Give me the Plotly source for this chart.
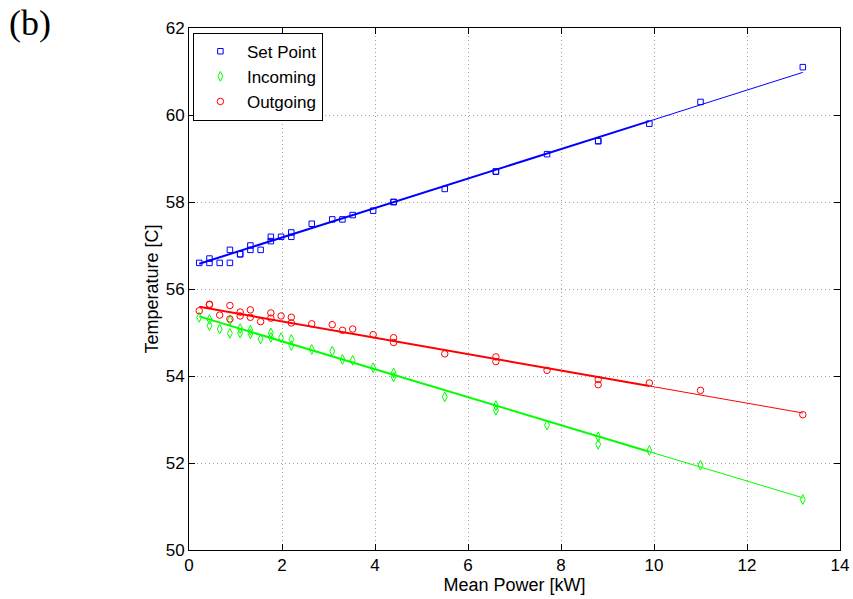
import plotly.graph_objects as go

# ---- data ----
power = [0.22, 0.44, 0.44, 0.66, 0.88, 0.88, 1.10, 1.10, 1.32, 1.32, 1.54,
         1.76, 1.76, 1.98, 2.20, 2.20, 2.64, 3.08, 3.30, 3.52, 3.96, 4.40,
         4.40, 5.50, 6.60, 6.60, 7.70, 8.80, 8.80, 9.90, 11.0, 13.2]

set_point = [56.6, 56.7, 56.6, 56.6, 56.9, 56.6, 56.8, 56.8, 57.0, 56.9, 56.9,
             57.2, 57.1, 57.2, 57.3, 57.2, 57.5, 57.6, 57.6, 57.7, 57.8, 58.0,
             58.0, 58.3, 58.7, 58.7, 59.1, 59.4, 59.4, 59.8, 60.3, 61.1]

incoming = [55.35, 55.30, 55.16, 55.08, 55.28, 54.98, 55.09, 54.99, 55.05, 54.97, 54.85,
            54.99, 54.89, 54.88, 54.84, 54.70, 54.61, 54.57, 54.38, 54.36, 54.19, 54.07,
            53.98, 53.52, 53.32, 53.21, 52.87, 52.60, 52.43, 52.29, 51.95, 51.16]

outgoing = [55.50, 55.65, 55.64, 55.40, 55.62, 55.31, 55.47, 55.38, 55.52, 55.35, 55.25,
            55.45, 55.33, 55.38, 55.35, 55.22, 55.20, 55.18, 55.05, 55.08, 54.95, 54.88,
            54.77, 54.51, 54.44, 54.33, 54.13, 53.92, 53.80, 53.84, 53.67, 53.11]

# fitted lines, read at x = 0.22, 9.9 (end of dense section), 13.2
fit_x = [0.22, 9.9, 13.2]
fit_set = [56.58, 59.86, 60.98]
fit_in = [55.37, 52.26, 51.20]
fit_out = [55.59, 53.77, 53.15]

x_ticks = [0, 2, 4, 6, 8, 10, 12, 14]
y_ticks = [50, 52, 54, 56, 58, 60, 62]

BLUE, GREEN, RED = "#0000ff", "#00ff00", "#ff0000"
FONT = "Liberation Sans, Arial, Helvetica, sans-serif"

fig = go.Figure()

for fy, col in [(fit_set, BLUE), (fit_out, RED), (fit_in, GREEN)]:
    fig.add_trace(go.Scatter(x=fit_x[:2], y=fy[:2], mode="lines",
                             line=dict(color=col, width=2), showlegend=False,
                             hoverinfo="skip"))
    fig.add_trace(go.Scatter(x=fit_x[1:], y=fy[1:], mode="lines",
                             line=dict(color=col, width=1), showlegend=False,
                             hoverinfo="skip"))

fig.add_trace(go.Scatter(x=power, y=set_point, mode="markers", name="Set Point",
                         marker=dict(symbol="square-open", size=5.5, color=BLUE,
                                     line=dict(width=1, color=BLUE))))
fig.add_trace(go.Scatter(x=power, y=incoming, mode="markers", name="Incoming",
                         marker=dict(symbol="diamond-tall-open", size=7, color=GREEN,
                                     line=dict(width=1, color=GREEN))))
fig.add_trace(go.Scatter(x=power, y=outgoing, mode="markers", name="Outgoing",
                         marker=dict(symbol="circle-open", size=6.5, color=RED,
                                     line=dict(width=1, color=RED))))

axis_common = dict(showline=True, linecolor="black", linewidth=1, mirror="ticks",
                   ticks="inside", ticklen=6, tickcolor="black", tickwidth=1,
                   showgrid=True, gridcolor="#a0a0a0", griddash="1px,3px", gridwidth=1,
                   zeroline=False, automargin=False,
                   tickfont=dict(family=FONT, size=17, color="black"))

fig.update_xaxes(range=[0, 14], tickvals=x_ticks, ticktext=[str(v) for v in x_ticks],
                 title=dict(text="Mean Power [kW]", font=dict(family=FONT, size=18, color="black"),
                            standoff=2),
                 **axis_common)
fig.update_yaxes(range=[50, 62], tickvals=y_ticks, ticktext=[str(v) for v in y_ticks],
                 title=dict(text="Temperature [C]", font=dict(family=FONT, size=18, color="black"),
                            standoff=2),
                 **axis_common)

fig.add_annotation(text="(b)", xref="paper", yref="paper", x=-0.244, y=1.01,
                   xanchor="center", yanchor="middle", showarrow=False,
                   font=dict(family="Liberation Serif, Times New Roman, serif", size=36,
                             color="black"))

fig.update_layout(
    width=853, height=599,
    margin=dict(l=189, r=13, t=28, b=49),
    paper_bgcolor="white", plot_bgcolor="white",
    font=dict(family=FONT, color="black"),
    legend=dict(x=0.006, y=0.991, xanchor="left", yanchor="top",
                bordercolor="black", borderwidth=1, bgcolor="white",
                font=dict(family=FONT, size=17, color="black"),
                tracegroupgap=0, itemwidth=43),
)

fig.write_html("out.html")
